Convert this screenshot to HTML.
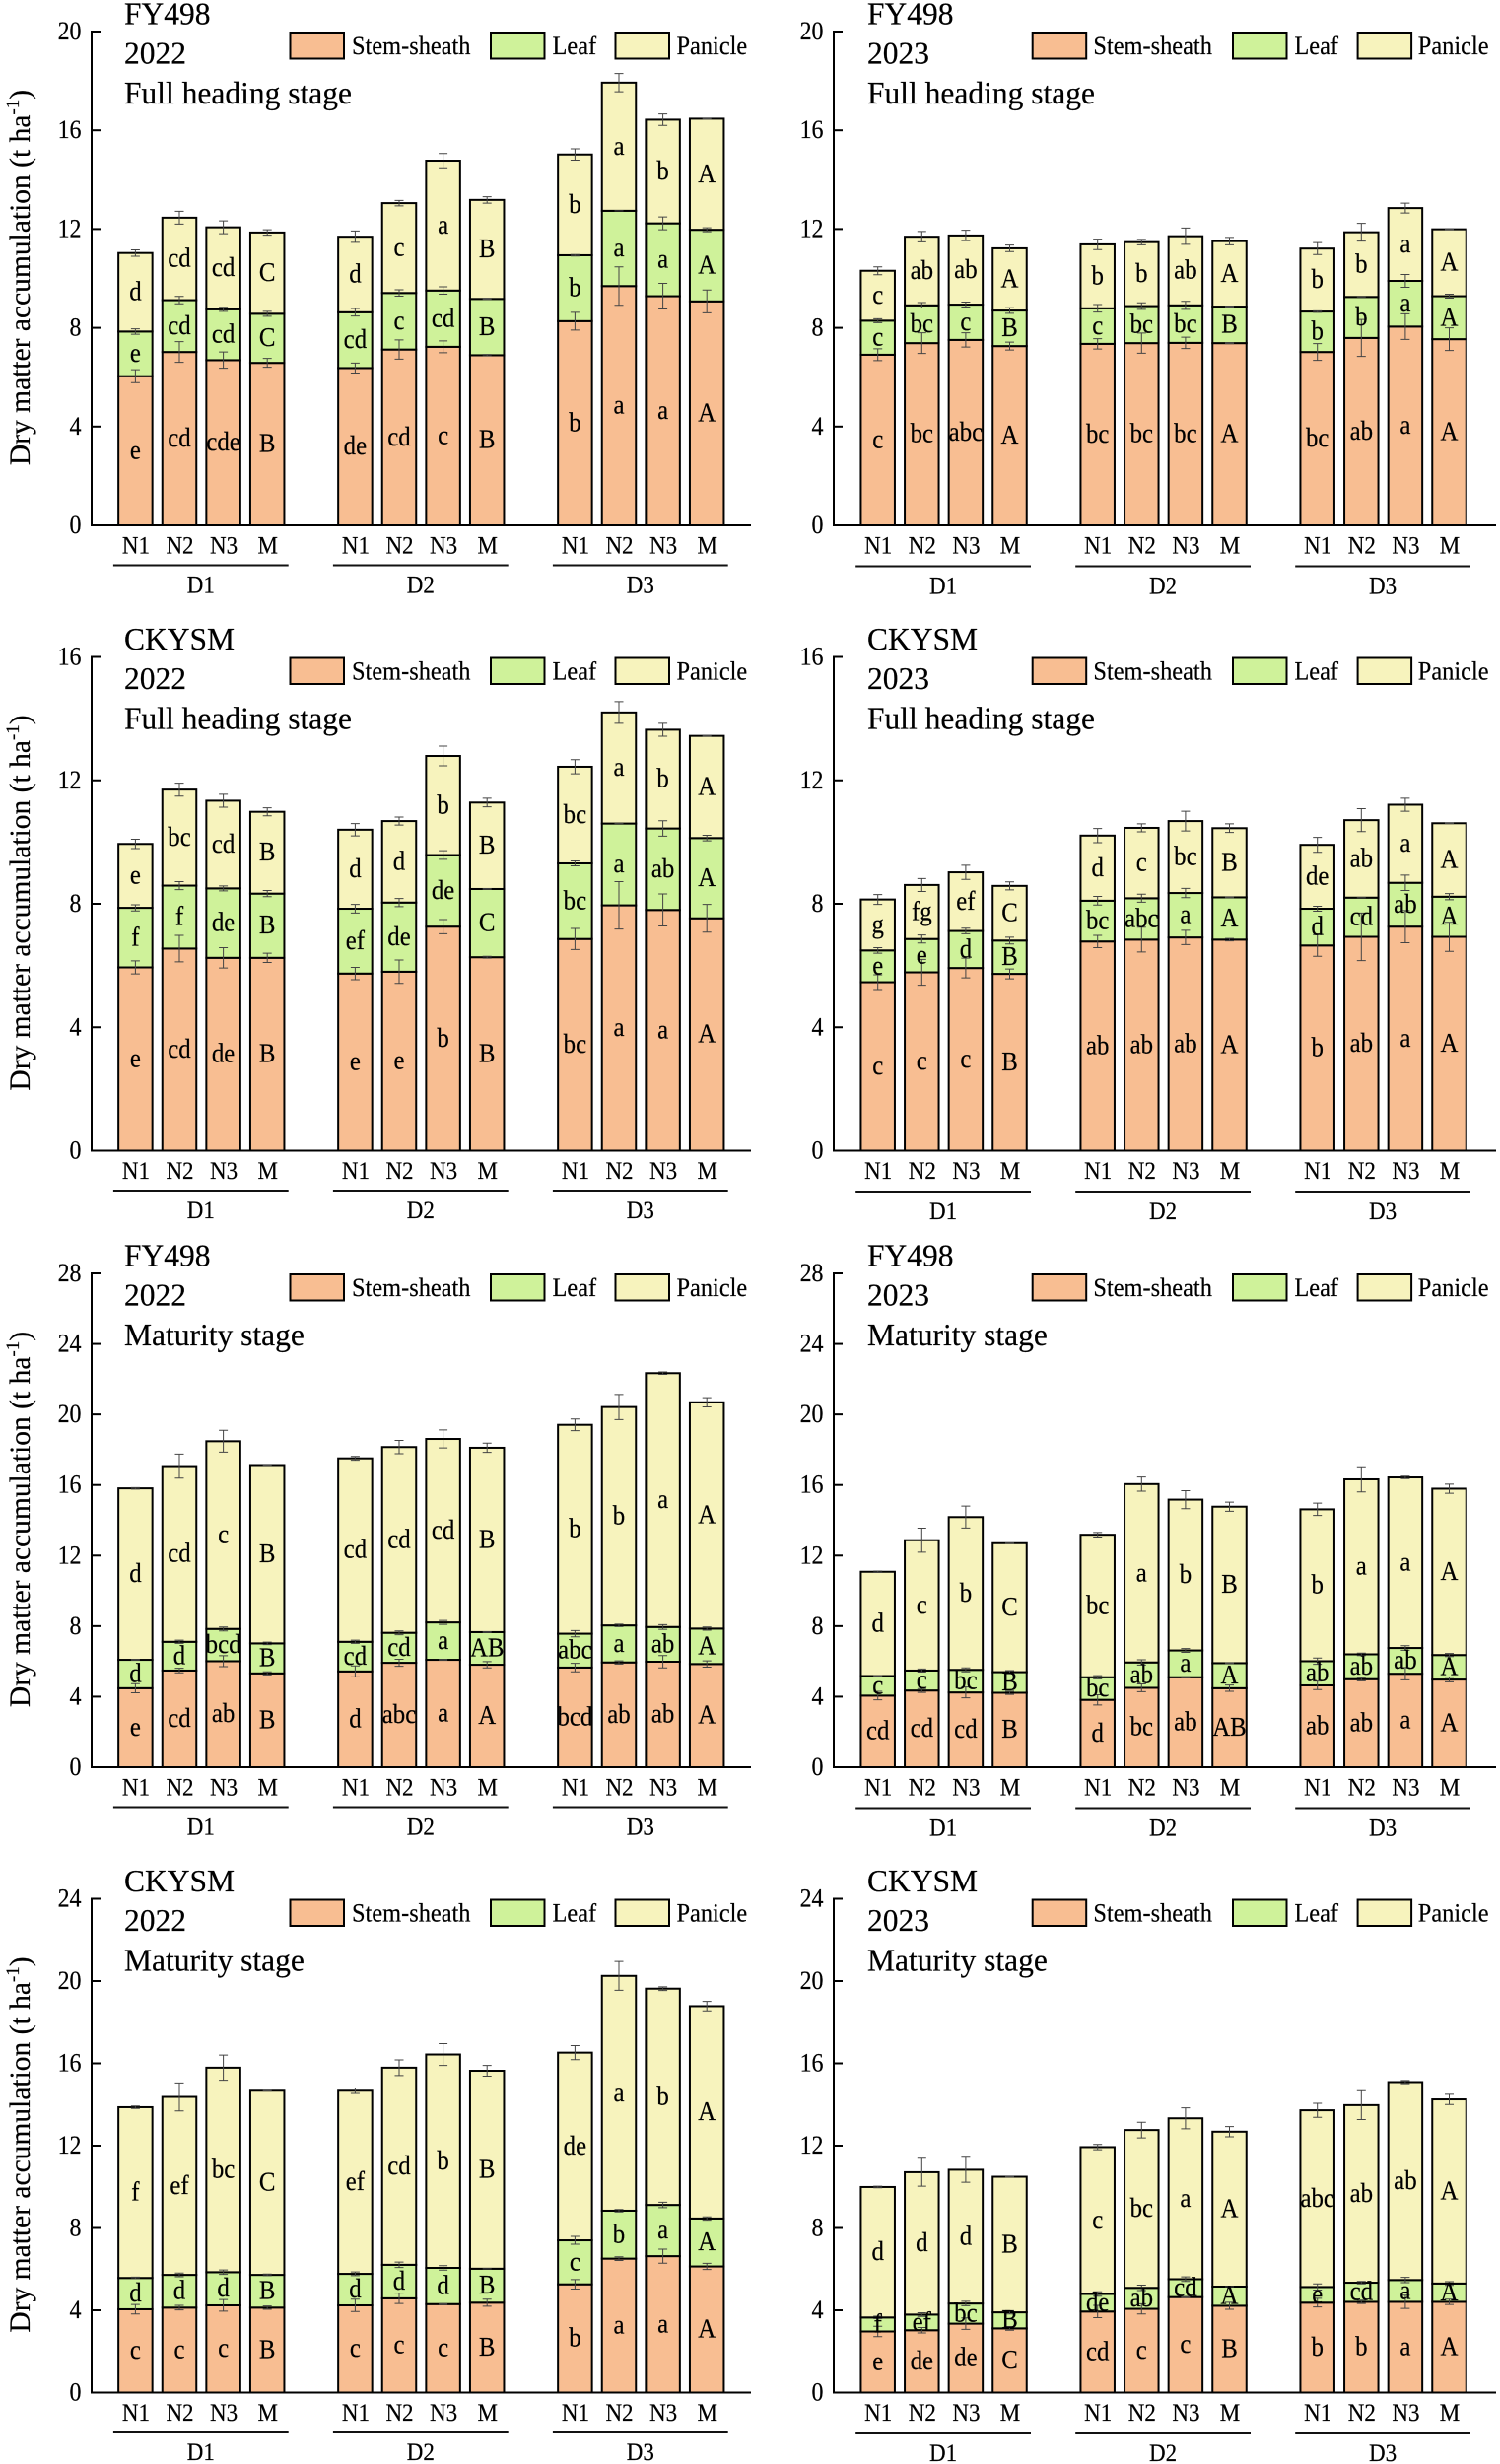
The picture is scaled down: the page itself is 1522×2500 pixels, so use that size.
<!DOCTYPE html>
<html lang="en">
<head>
<meta charset="utf-8">
<title>Dry matter accumulation by organ</title>
<style>
html,body{margin:0;padding:0;background:#fff;}
svg{display:block;}
text{font-family:"Liberation Serif","Times New Roman",serif;fill:#000;stroke:#000;stroke-width:0.2;}
</style>
</head>
<body>
<svg id="figure" xmlns="http://www.w3.org/2000/svg" width="1522" height="2500" viewBox="0 0 1522 2500"></svg>
<script>
// Shared categories and labels
const categories = ['N1', 'N2', 'N3', 'M'];
const groups = ['D1', 'D2', 'D3'];
const seriesNames = ['Stem-sheath', 'Leaf', 'Panicle'];
const yTitle = 'Dry matter accumulation (t ha';
const ticks20 = [0, 4, 8, 12, 16, 20];
const ticks16 = [0, 4, 8, 12, 16];
const ticks28 = [0, 4, 8, 12, 16, 20, 24, 28];
const ticks24 = [0, 4, 8, 12, 16, 20, 24];

// FY498 2022 full heading
const aStem = [6.04,7.02,6.69,6.58, 6.37,7.12,7.23,6.89, 8.27,9.69,9.28,9.07];
const aLeaf = [1.81,2.10,2.06,1.99, 2.26,2.29,2.28,2.28, 2.67,3.05,2.95,2.90];
const aPanicle = [3.18,3.34,3.32,3.29, 3.06,3.64,5.26,4.01, 4.08,5.19,4.20,4.50];
const aStemErr = [.26,.42,.33,.18, .20,.39,.24,.03, .36,.78,.52,.46];
const aLeafErr = [.11,.15,.08,.10, .15,.13,.15,.02, .03,0,.26,.08];
const aPanicleErr = [.13,.26,.26,.11, .23,.11,.29,.13, .23,.37,.23,.02];
const aStemSig = ['e','cd','cde','B', 'de','cd','c','B', 'b','a','a','A'];
const aLeafSig = ['e','cd','cd','C', 'cd','c','cd','B', 'b','a','a','A'];
const aPanicleSig = ['d','cd','cd','C', 'd','c','a','B', 'b','a','b','A'];

// FY498 2023 full heading
const bStem = [6.91,7.38,7.51,7.26, 7.35,7.38,7.39,7.38, 7.02,7.59,8.05,7.54];
const bLeaf = [1.38,1.53,1.43,1.44, 1.44,1.50,1.52,1.48, 1.64,1.66,1.85,1.74];
const bPanicle = [2.02,2.78,2.80,2.52, 2.59,2.59,2.80,2.65, 2.55,2.62,2.95,2.71];
const bStemErr = [.24,.42,.29,.16, .21,.41,.23,.02, .34,.75,.52,.46];
const bLeafErr = [.08,.11,.10,.11, .15,.13,.16,.02, .03,0,.26,.08];
const bPanicleErr = [.16,.21,.21,.13, .21,.11,.33,.15, .24,.36,.20,.02];
const bStemSig = ['c','bc','abc','A', 'bc','bc','bc','A', 'bc','ab','a','A'];
const bLeafSig = ['c','bc','c','B', 'c','bc','bc','B', 'b','b','a','A'];
const bPanicleSig = ['c','ab','ab','A', 'b','b','ab','A', 'b','b','a','A'];

// CKYSM 2022 full heading
const cStem = [5.94,6.55,6.25,6.25, 5.74,5.80,7.26,6.27, 6.86,7.95,7.80,7.53];
const cLeaf = [1.93,2.04,2.25,2.08, 2.10,2.24,2.32,2.21, 2.45,2.65,2.64,2.60];
const cPanicle = [2.07,3.11,2.84,2.65, 2.56,2.64,3.21,2.80, 3.13,3.60,3.20,3.31];
const cStemErr = [.21,.43,.33,.15, .20,.38,.23,.03, .34,.77,.52,.45];
const cLeafErr = [.10,.13,.08,.10, .14,.13,.14,.01, .08,0,.25,.09];
const cPanicleErr = [.15,.21,.21,.13, .20,.13,.32,.14, .23,.35,.21,.01];
const cStemSig = ['e','cd','de','B', 'e','e','b','B', 'bc','a','a','A'];
const cLeafSig = ['f','f','de','B', 'ef','de','de','C', 'bc','a','ab','A'];
const cPanicleSig = ['e','bc','cd','B', 'd','d','b','B', 'bc','a','b','A'];

// CKYSM 2023 full heading
const dStem = [5.46,5.78,5.92,5.73, 6.78,6.84,6.91,6.84, 6.65,6.93,7.26,6.93];
const dLeaf = [1.03,1.08,1.20,1.08, 1.32,1.34,1.44,1.37, 1.19,1.27,1.42,1.30];
const dPanicle = [1.65,1.75,1.90,1.77, 2.11,2.28,2.33,2.24, 2.07,2.51,2.53,2.38];
const dStemErr = [.24,.42,.32,.16, .20,.40,.23,.04, .35,.77,.52,.47];
const dLeafErr = [.09,.13,.09,.11, .14,.13,.15,.01, .08,0,.25,.10];
const dPanicleErr = [.16,.21,.23,.13, .23,.13,.32,.14, .24,.37,.21,.01];
const dStemSig = ['c','c','c','B', 'ab','ab','ab','A', 'b','ab','a','A'];
const dLeafSig = ['e','e','d','B', 'bc','abc','a','A', 'd','cd','ab','A'];
const dPanicleSig = ['g','fg','ef','C', 'd','c','bc','B', 'de','ab','a','A'];

// FY498 2022 maturity
const eStem = [4.48,5.48,6.01,5.32, 5.43,5.92,6.09,5.81, 5.65,5.94,5.98,5.85];
const eLeaf = [1.61,1.63,1.83,1.70, 1.68,1.70,2.12,1.85, 1.92,2.10,1.97,2.01];
const ePanicle = [9.72,9.96,10.64,10.11, 10.40,10.53,10.40,10.45, 11.84,12.38,14.39,12.83];
const eStemErr = [.26,.13,.31,.09, .31,.20,.02,.18, .24,.09,.35,.18];
const eLeafErr = [.02,.09,.11,.07, .09,.11,.11,.02, .18,.07,.13,.09];
const ePanicleErr = [.04,.68,.62,.01, .11,.38,.51,.26, .33,.71,.07,.26];
const eStemSig = ['e','cd','ab','B', 'd','abc','a','A', 'bcd','ab','ab','A'];
const eLeafSig = ['d','d','bcd','B', 'cd','cd','a','AB', 'abc','a','ab','A'];
const ePanicleSig = ['d','cd','c','B', 'cd','cd','cd','B', 'b','b','a','A'];

// FY498 2023 maturity
const fStem = [4.06,4.35,4.24,4.22, 3.82,4.50,5.10,4.48, 4.64,4.99,5.30,4.97];
const fLeaf = [1.11,1.13,1.28,1.17, 1.28,1.44,1.52,1.42, 1.37,1.41,1.46,1.39];
const fPanicle = [5.91,7.39,8.66,7.31, 8.08,10.11,8.55,8.87, 8.61,9.92,9.67,9.43];
const fStemErr = [.24,.11,.31,.09, .29,.22,.02,.18, .24,.09,.35,.13];
const fLeafErr = [.02,.09,.11,.09, .09,.15,.11,.02, .18,.07,.13,.09];
const fPanicleErr = [.04,.68,.62,.01, .13,.40,.51,.26, .35,.71,.07,.26];
const fStemSig = ['cd','cd','cd','B', 'd','bc','ab','AB', 'ab','ab','a','A'];
const fLeafSig = ['c','c','bc','B', 'bc','ab','a','A', 'ab','ab','ab','A'];
const fPanicleSig = ['d','c','b','C', 'bc','a','b','B', 'b','a','a','A'];

// CKYSM 2022 maturity
const gStem = [4.05,4.13,4.24,4.13, 4.24,4.58,4.30,4.37, 5.26,6.51,6.63,6.13];
const gLeaf = [1.52,1.59,1.61,1.59, 1.53,1.63,1.76,1.65, 2.14,2.33,2.49,2.33];
const gPanicle = [8.30,8.65,9.94,8.95, 8.90,9.58,10.37,9.62, 9.12,11.41,10.51,10.32];
const gStemErr = [.23,.11,.28,.08, .30,.25,.02,.17, .23,.09,.34,.15];
const gLeafErr = [.04,.09,.11,.04, .09,.13,.11,0, .19,.06,.13,.08];
const gPanicleErr = [.06,.68,.61,.02, .13,.38,.53,.26, .34,.70,.09,.23];
const gStemSig = ['c','c','c','B', 'c','c','c','B', 'b','a','a','A'];
const gLeafSig = ['d','d','d','B', 'd','d','d','B', 'c','b','a','A'];
const gPanicleSig = ['f','ef','bc','C', 'ef','cd','b','B', 'de','a','b','A'];

// CKYSM 2023 maturity
const hStem = [2.97,3.03,3.35,3.12, 3.94,4.07,4.64,4.22, 4.37,4.41,4.41,4.41];
const hLeaf = [.68,.76,.98,.78, .85,1.02,.87,.93, .76,.93,1.06,.89];
const hPanicle = [6.34,6.92,6.50,6.59, 7.14,7.67,7.82,7.53, 8.59,8.63,9.62,8.95];
const hStemErr = [.25,.13,.28,.09, .30,.25,.02,.17, .21,.08,.32,.13];
const hLeafErr = [.06,.09,.11,.08, .11,.13,.11,0, .15,.06,.13,.09];
const hPanicleErr = [.04,.68,.61,.01, .13,.38,.51,.25, .34,.70,.08,.25];
const hStemSig = ['e','de','de','C', 'cd','c','c','B', 'b','b','a','A'];
const hLeafSig = ['f','ef','bc','B', 'de','ab','cd','A', 'e','cd','a','A'];
const hPanicleSig = ['d','d','d','B', 'c','bc','a','A', 'abc','ab','ab','A'];

const panels = [
  {id:'fy498-2022-heading', col:0, row:0, title:['FY498','2022','Full heading stage'], max:20, ticks:ticks20,
   values:[aStem,aLeaf,aPanicle], errors:[aStemErr,aLeafErr,aPanicleErr], sig:[aStemSig,aLeafSig,aPanicleSig]},
  {id:'fy498-2023-heading', col:1, row:0, title:['FY498','2023','Full heading stage'], max:20, ticks:ticks20,
   values:[bStem,bLeaf,bPanicle], errors:[bStemErr,bLeafErr,bPanicleErr], sig:[bStemSig,bLeafSig,bPanicleSig]},
  {id:'ckysm-2022-heading', col:0, row:1, title:['CKYSM','2022','Full heading stage'], max:16, ticks:ticks16,
   values:[cStem,cLeaf,cPanicle], errors:[cStemErr,cLeafErr,cPanicleErr], sig:[cStemSig,cLeafSig,cPanicleSig]},
  {id:'ckysm-2023-heading', col:1, row:1, title:['CKYSM','2023','Full heading stage'], max:16, ticks:ticks16,
   values:[dStem,dLeaf,dPanicle], errors:[dStemErr,dLeafErr,dPanicleErr], sig:[dStemSig,dLeafSig,dPanicleSig]},
  {id:'fy498-2022-maturity', col:0, row:2, title:['FY498','2022','Maturity stage'], max:28, ticks:ticks28,
   values:[eStem,eLeaf,ePanicle], errors:[eStemErr,eLeafErr,ePanicleErr], sig:[eStemSig,eLeafSig,ePanicleSig]},
  {id:'fy498-2023-maturity', col:1, row:2, title:['FY498','2023','Maturity stage'], max:28, ticks:ticks28,
   values:[fStem,fLeaf,fPanicle], errors:[fStemErr,fLeafErr,fPanicleErr], sig:[fStemSig,fLeafSig,fPanicleSig]},
  {id:'ckysm-2022-maturity', col:0, row:3, title:['CKYSM','2022','Maturity stage'], max:24, ticks:ticks24,
   values:[gStem,gLeaf,gPanicle], errors:[gStemErr,gLeafErr,gPanicleErr], sig:[gStemSig,gLeafSig,gPanicleSig]},
  {id:'ckysm-2023-maturity', col:1, row:3, title:['CKYSM','2023','Maturity stage'], max:24, ticks:ticks24,
   values:[hStem,hLeaf,hPanicle], errors:[hStemErr,hLeafErr,hPanicleErr], sig:[hStemSig,hLeafSig,hPanicleSig]}
];

// Layout (geometry, separate from the data)
const PLOT_H = 501;
const rowTop = [32, 666.5, 1292, 1926.5];
const colLayout = [
  {axis:93, end:762, first:137.4, labelRight:82.5, titleX:126, swatch:[294.5,498,624.5], swatchW:54.5, legendText:[357,560.5,686.5], lineDy:40.5, groupDy:68.5},
  {axis:846, end:1518, first:890.7, labelRight:835.5, titleX:880, swatch:[1047.7,1251,1377.6], swatchW:54.5, legendText:[1109.4,1313.4,1438.8], lineDy:41.5, groupDy:69.5}
];
const STEP = 44.6;
const BAR_W = 34.5;
const fills = ['#F8BE92', '#CFF29A', '#F7F3BD'];
const seriesKeys = ['stem-sheath', 'leaf', 'panicle'];
const NARROW = 0.92;

const NS = 'http://www.w3.org/2000/svg';
const root = document.getElementById('figure');

function make(tag, parent, attrs, txt) {
  const n = document.createElementNS(NS, tag);
  for (const k in attrs) n.setAttribute(k, attrs[k]);
  if (txt !== undefined) n.textContent = txt;
  parent.appendChild(n);
  return n;
}
// Reference text is slightly condensed horizontally
function place(x, y) {
  return 'translate(' + x + ' ' + y + ') scale(' + NARROW + ' 1)';
}

panels.forEach(function (p) {
  const L = colLayout[p.col];
  const top = rowTop[p.row];
  const y0 = top + PLOT_H;
  const yScale = function (v) { return y0 - v / p.max * PLOT_H; };
  const xScale = function (g, c) { return L.first + (g * 5 + c) * STEP; };

  const g = make('g', root, {});
  
  

  // bars
  groups.forEach(function (grp, gi) {
    categories.forEach(function (cat, ci) {
      const idx = gi * 4 + ci;
      const cx = xScale(gi, ci);
      let cum = 0;
      p.values.forEach(function (series, si) {
        const v = series[idx];
        const yTop = yScale(cum + v);
        const yBot = yScale(cum);
        const rect = make('rect', g, {x: cx - BAR_W / 2, y: yTop, width: BAR_W, height: yBot - yTop, fill: fills[si], stroke: '#000', 'stroke-width': 2});
        
        
        cum += v;
      });
    });
  });

  // error bars
  groups.forEach(function (grp, gi) {
    categories.forEach(function (cat, ci) {
      const idx = gi * 4 + ci;
      const cx = xScale(gi, ci);
      let cum = 0;
      p.values.forEach(function (series, si) {
        cum += series[idx];
        const e = p.errors[si][idx];
        const eg = make('path', g, {
          d: 'M' + cx + ' ' + yScale(cum + e) + 'V' + yScale(cum - e) +
             'M' + (cx - 4.5) + ' ' + yScale(cum + e) + 'H' + (cx + 4.5) +
             'M' + (cx - 4.5) + ' ' + yScale(cum - e) + 'H' + (cx + 4.5),
          fill: 'none', stroke: '#444', 'stroke-width': 1
        });
        
        
      });
    });
  });

  // significance letters
  groups.forEach(function (grp, gi) {
    categories.forEach(function (cat, ci) {
      const idx = gi * 4 + ci;
      const cx = xScale(gi, ci);
      let cum = 0;
      p.values.forEach(function (series, si) {
        const mid = yScale(cum + series[idx] / 2);
        cum += series[idx];
        const t = make('text', g, {transform: place(cx, mid + 8), 'text-anchor': 'middle', 'font-size': 27}, p.sig[si][idx]);
        
        
      });
    });
  });

  // axes
  const yAxis = make('line', g, {x1: L.axis, x2: L.axis, y1: top - 1, y2: y0 + 1, stroke: '#000', 'stroke-width': 2});
  
  
  const xAxis = make('line', g, {x1: L.axis - 1, x2: L.end, y1: y0, y2: y0, stroke: '#000', 'stroke-width': 2});
  
  

  p.ticks.forEach(function (tv) {
    const ty = yScale(tv);
    const tk = make('line', g, {x1: L.axis, x2: L.axis + 9, y1: ty, y2: ty, stroke: '#000', 'stroke-width': 2});
    
    
    const tl = make('text', g, {transform: place(L.labelRight, ty + 8), 'text-anchor': 'end', 'font-size': 26}, String(tv));
    
    
  });

  // x category + group labels
  groups.forEach(function (grp, gi) {
    categories.forEach(function (cat, ci) {
      const xl = make('text', g, {transform: place(xScale(gi, ci) + 0.5, y0 + 28.5), 'text-anchor': 'middle', 'font-size': 25}, cat);
      
      
    });
    const x1 = xScale(gi, 0) - 22.5;
    const x2 = xScale(gi, 3) + 21.5;
    const gl = make('line', g, {x1: x1, x2: x2, y1: y0 + L.lineDy, y2: y0 + L.lineDy, stroke: '#111', 'stroke-width': 2});
    
    
    const gt = make('text', g, {transform: place((x1 + x2) / 2, y0 + L.groupDy), 'text-anchor': 'middle', 'font-size': 25}, grp);
    
    
  });

  // panel titles
  const titleOffsets = [-7.5, 32.5, 73];
  p.title.forEach(function (line, i) {
    const tt = make('text', g, {x: L.titleX, y: top + titleOffsets[i], 'font-size': 31.5}, line);
    
    
  });

  // legend
  seriesNames.forEach(function (name, i) {
    const sw = make('rect', g, {x: L.swatch[i], y: top + 1, width: L.swatchW, height: 26.5, fill: fills[i], stroke: '#000', 'stroke-width': 2});
    
    
    const lt = make('text', g, {transform: place(L.legendText[i], top + 23), 'font-size': 26.5}, name);
    
    
  });

  // y axis title (left column only)
  if (p.col === 0) {
    const cy = top + PLOT_H / 2 - 1;
    const yt = make('text', g, {transform: 'translate(30 ' + cy + ') rotate(-90)', 'text-anchor': 'middle', 'font-size': 29.5});
    
    
    make('tspan', yt, {}, yTitle);
    make('tspan', yt, {dy: -11, 'font-size': 19}, '-1');
    make('tspan', yt, {dy: 11}, ')');
  }
});
</script>
</body>
</html>
